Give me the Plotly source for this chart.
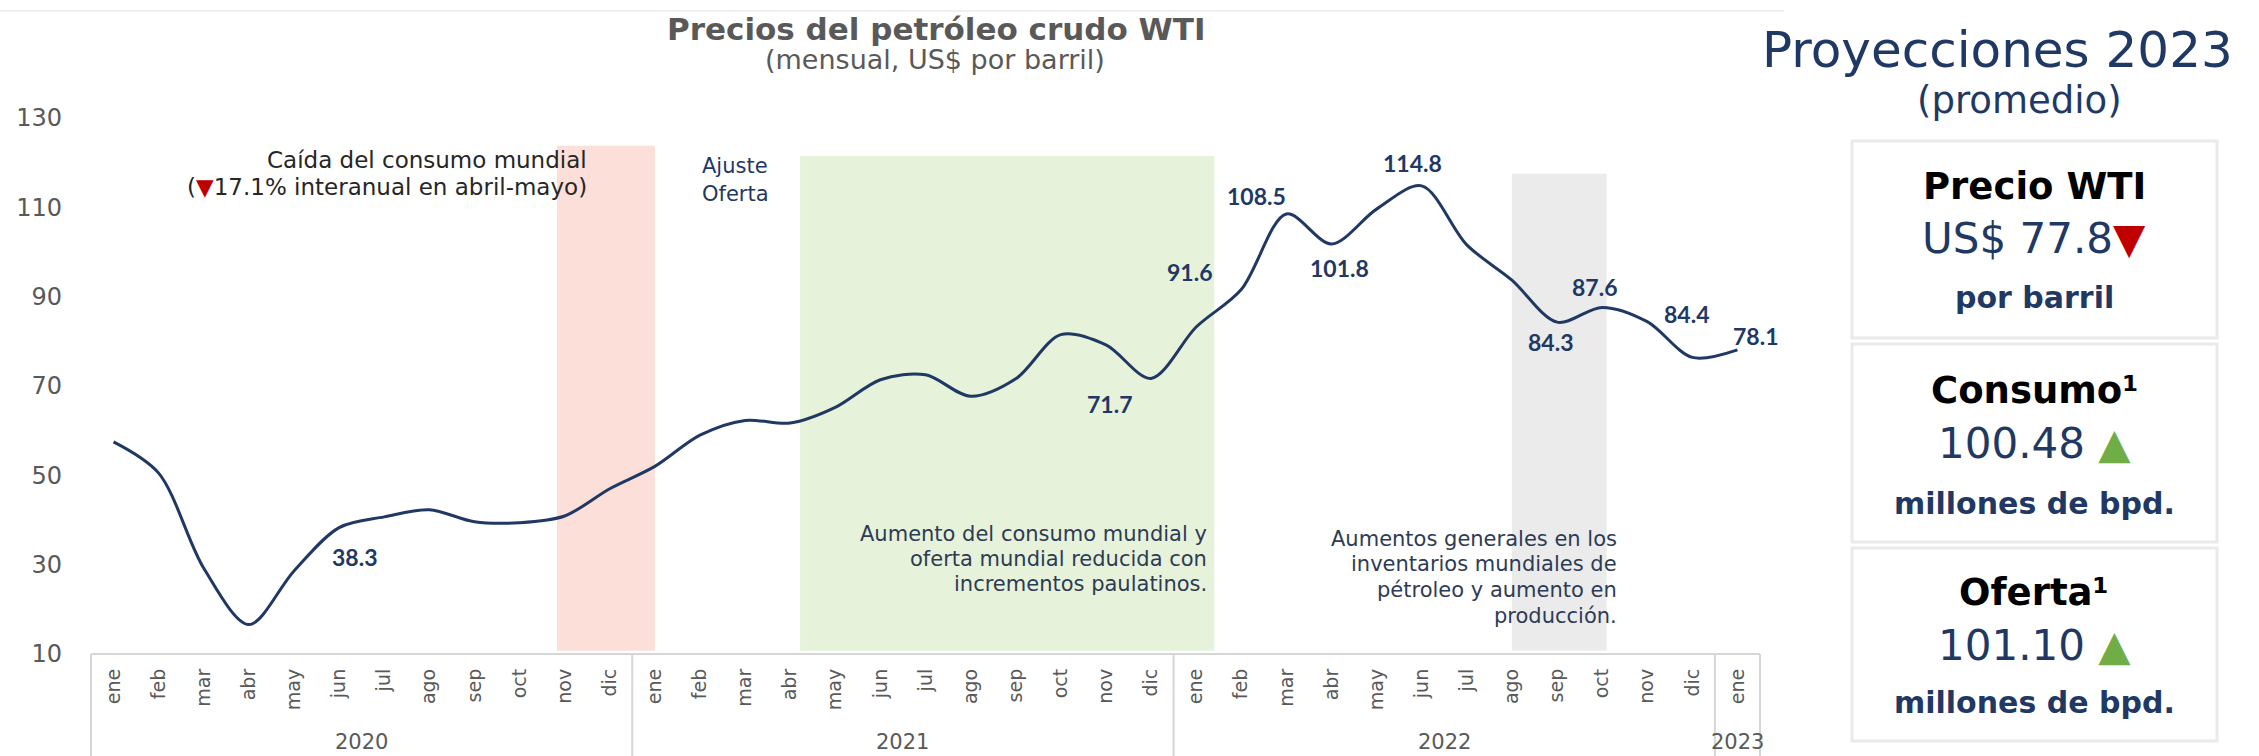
import plotly.graph_objects as go

# ---------------- data ----------------
months = ["ene", "feb", "mar", "abr", "may", "jun", "jul", "ago", "sep", "oct", "nov", "dic"]
years = ["2020", "2021", "2022", "2023"]
months_per_year = [12, 12, 12, 1]
wti_price = [57.5, 50.5, 29.2, 16.6, 28.6, 38.3, 40.7, 42.3, 39.6, 39.4, 40.9, 47.0,
             52.0, 59.0, 62.3, 61.7, 65.2, 71.4, 72.5, 67.7, 71.6, 81.5, 79.2, 71.7,
             83.2, 91.6, 108.5, 101.8, 109.6, 114.8, 101.6, 93.7, 84.3, 87.6, 84.4, 76.4,
             78.1]
labelled_points = [5, 23, 25, 26, 27, 29, 32, 33, 34, 36]
y_ticks = [10, 30, 50, 70, 90, 110, 130]

proj_titles = ["Precio WTI", "Consumo¹", "Oferta¹"]
proj_values = ["US$ 77.8", "100.48 ", "101.10 "]
proj_arrows = ["▼", "▲", "▲"]
proj_units = ["por barril", "millones de bpd.", "millones de bpd."]

month_labels = [m for n in months_per_year for m in months[:n]]
xs = list(range(len(month_labels)))

# ---------------- geometry / style ----------------
FIG_W, FIG_H = 2259, 756
L, R, T, B = 91, 1760, 118, 654
NAVY = "#1F3864"
GRAY = "#595959"
RED = "#C00000"
GREEN = "#70AD47"
GEO = "DejaVu Sans"
NOTE = "#2E3B55"


def px(x):
    return (x - L) / (R - L)


def py(y):
    return (B - y) / (B - T)


X_MIN, X_MAX = -0.5, len(xs) - 0.5


def xi(i):
    return (i - X_MIN) / (X_MAX - X_MIN)


fig = go.Figure()
fig.add_trace(go.Scatter(
    x=xs, y=wti_price, mode="lines",
    line=dict(color=NAVY, width=3, shape="spline", smoothing=0.9),
    hoverinfo="skip", showlegend=False,
))

shapes = []
# shaded periods (x in month index, y in value)
bands = [
    (9.83, 12.0, 10.7, 123.8, "#FCDFD8"),
    (15.22, 24.4, 10.7, 121.5, "#E6F2DA"),
    (31.0, 33.1, 10.7, 117.5, "#EBEBEB"),
]
for x0, x1, y0, y1, col in bands:
    shapes.append(dict(type="rect", xref="x", yref="y", x0=x0, x1=x1, y0=y0, y1=y1,
                       fillcolor=col, line=dict(width=0), layer="below"))

# category box below the axis
BOX = "#D6D6D6"
shapes.append(dict(type="line", xref="paper", yref="paper", x0=0, x1=1, y0=0, y1=0,
                   line=dict(color=BOX, width=2)))
bounds = [X_MIN]
acc = X_MIN
for n in months_per_year:
    acc += n
    bounds.append(acc)
for b in bounds:
    shapes.append(dict(type="line", xref="paper", yref="paper", x0=xi(b), x1=xi(b),
                       y0=0, y1=py(FIG_H + 5), line=dict(color=BOX, width=2)))

# faint top separator
shapes.append(dict(type="line", xref="paper", yref="paper", x0=px(0), x1=px(1784),
                   y0=py(11), y1=py(11), line=dict(color="#F0F0F0", width=2)))

# right-hand boxes
for y0, y1 in [(141, 338), (344, 542), (548, 741)]:
    shapes.append(dict(type="rect", xref="paper", yref="paper", x0=px(1852), x1=px(2217),
                       y0=py(y1), y1=py(y0), line=dict(color="#EAEAEA", width=3),
                       fillcolor="rgba(0,0,0,0)"))

ann = []


def text(x, y, s, size, color, family=GEO, anchor="center", weight="normal"):
    ann.append(dict(x=px(x), y=py(y), xref="paper", yref="paper", text=s, showarrow=False,
                    xanchor=anchor, yanchor="middle",
                    font=dict(family=family, size=size, color=color, weight=weight)))


# titles
text(936, 29, "Precios del petróleo crudo WTI", 31, GRAY, weight="bold")
text(935, 59, "(mensual, US$ por barril)", 27, GRAY)

# year labels
start = X_MIN
for yname, n in zip(years, months_per_year):
    ann.append(dict(x=xi(start + n / 2), y=py(742), xref="paper", yref="paper", text=yname,
                    showarrow=False, xanchor="center", yanchor="middle",
                    font=dict(family=GEO, size=21, color=GRAY)))
    start += n

# period notes
text(589, 160, "Caída del consumo mundial", 23, "#262626", anchor="right")
text(589, 187, f"(<span style='color:{RED}'>▼</span>17.1% interanual en abril-mayo)", 23,
     "#262626", anchor="right")
text(700, 166, "Ajuste", 21, NAVY, anchor="left")
text(700, 194, "Oferta", 21, NAVY, anchor="left")
for yy, s in zip([534, 559, 584], ["Aumento del consumo mundial y",
                                   "oferta mundial reducida con",
                                   "incrementos paulatinos."]):
    text(1209, yy, s, 21, NOTE, anchor="right")
for yy, s in zip([539, 564, 590, 616], ["Aumentos generales en los",
                                        "inventarios mundiales de",
                                        "pétroleo y aumento en",
                                        "producción."]):
    text(1619, yy, s, 21, NOTE, anchor="right")

# data labels
label_offsets = {5: (15, 29), 23: (-42, 26), 25: (-52, -18), 26: (-30, -18),
                 27: (8, 24), 29: (-9, -23), 32: (-7, 20), 33: (-8, -20),
                 34: (39, -8), 36: (18, -14)}
for i in labelled_points:
    dx, dy = label_offsets[i]
    ann.append(dict(x=xs[i], y=wti_price[i], xref="x", yref="y",
                    text=f"{wti_price[i]:.1f}", showarrow=False,
                    xanchor="center", yanchor="middle", xshift=dx, yshift=-dy,
                    font=dict(family="Lato", size=23, color=NAVY, weight="bold")))

# right panel
text(1997, 50, "Proyecciones 2023", 50, NAVY)
text(2019, 100, "(promedio)", 37, NAVY)
rows = [(187, 238, 297), (390, 444, 503), (592, 645, 702)]
for (yt, yv, yu), t, v, a, u in zip(rows, proj_titles, proj_values, proj_arrows, proj_units):
    acol = RED if a == "▼" else GREEN
    text(2034, yt, t, 37, "#000000", weight="bold")
    text(2034, yv, f"{v}<span style='color:{acol}'>{a}</span>", 42, NAVY)
    text(2034, yu, u, 30, NAVY, weight="bold")

fig.update_layout(
    width=FIG_W, height=FIG_H,
    margin=dict(l=L, r=FIG_W - R, t=T, b=FIG_H - B, pad=0),
    paper_bgcolor="white", plot_bgcolor="rgba(0,0,0,0)",
    showlegend=False,
    font=dict(family=GEO, color=GRAY),
    xaxis=dict(range=[X_MIN, X_MAX], tickmode="array", tickvals=xs, ticktext=month_labels,
               tickangle=-90, showgrid=False, zeroline=False, showline=False, ticks="",
               tickfont=dict(family=GEO, size=19, color=GRAY), ticklabelstandoff=10,
               automargin=False, fixedrange=True),
    yaxis=dict(range=[10, 130], tickmode="array", tickvals=y_ticks, showgrid=False,
               zeroline=False, showline=False, ticks="",
               tickfont=dict(family=GEO, size=24, color=GRAY), ticklabelstandoff=28,
               automargin=False, fixedrange=True),
    shapes=shapes, annotations=ann,
)

fig.write_html(
    "out.html",
    config={"displayModeBar": False},
    post_script="document.body.style.margin='0px';"
                "document.documentElement.style.overflow='hidden';",
)
